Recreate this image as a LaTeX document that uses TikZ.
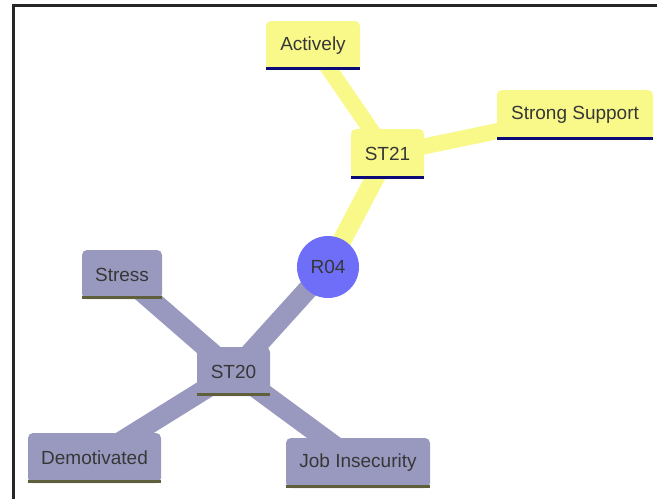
\documentclass[tikz,border=0pt]{standalone}
\usepackage{fontspec}
\setmainfont{Liberation Sans}
\definecolor{leafyellow}{RGB}{249,249,138}
\definecolor{navyline}{RGB}{10,10,120}
\definecolor{slatebox}{RGB}{153,153,192}
\definecolor{oliveline}{RGB}{95,95,60}
\definecolor{rootblue}{RGB}{110,110,248}
\definecolor{labelgrey}{RGB}{55,55,55}
\begin{document}
\begin{tikzpicture}[x=1pt,y=-1pt,
  every node/.style={font=\fontsize{19}{21}\selectfont, text=labelgrey, inner sep=0pt},
  ybox/.style={fill=leafyellow, rounded corners=5pt},
  gbox/.style={fill=slatebox, rounded corners=5pt},
  yul/.style={draw=navyline, line width=3.5pt},
  gul/.style={draw=oliveline, line width=3.5pt},
  yband/.style={draw=leafyellow, line width=16pt},
  gband/.style={draw=slatebox, line width=20pt},
  frameline/.style={draw=black!85, line width=3pt}]
  \useasboundingbox (0,0) rectangle (657,499);
  \fill[white] (0,0) rectangle (657,499);

  % frame
  \coordinate (ftl) at (13.5,5.5);
  \coordinate (ftr) at (657,5.5);
  \coordinate (fbl) at (13.5,499);
  \draw[frameline] (ftr) -- (ftl) -- (fbl);

  % centres
  \coordinate (cAct) at (313,45.5);
  \coordinate (cS21) at (387.5,154);
  \coordinate (cSup) at (575,115);
  \coordinate (cR04) at (328,267);
  \coordinate (cStr) at (122,274.5);
  \coordinate (cS20) at (233.5,371.5);
  \coordinate (cDem) at (94.5,458);
  \coordinate (cJob) at (358,463);

  % connectors (behind the boxes)
  \draw[yband] (cAct) -- (cS21);
  \draw[yband] (cS21) -- (cSup);
  \draw[yband, line width=19pt] (cS21) -- (cR04);
  \draw[gband] (cR04) -- (cS20);
  \draw[gband] (cS20) -- (cStr);
  \draw[gband] (cS20) -- (cDem);
  \draw[gband] (cS20) -- (cJob);

  % boxes
  \node[ybox, minimum width=94pt, minimum height=49pt] (act) at (cAct) {Actively};
  \node[ybox, minimum width=73pt, minimum height=50pt] (s21) at (cS21) {ST21};
  \node[ybox, minimum width=156pt, minimum height=50pt] (sup) at (cSup) {Strong Support};
  \node[circle, fill=rootblue, minimum size=62pt] (r04) at (cR04) {R04};
  \node[gbox, minimum width=80pt, minimum height=49pt] (str) at (cStr) {Stress};
  \node[gbox, minimum width=73pt, minimum height=49pt] (s20) at (cS20) {ST20};
  \node[gbox, minimum width=133pt, minimum height=50pt] (dem) at (cDem) {Demotivated};
  \node[gbox, minimum width=144pt, minimum height=50pt] (job) at (cJob) {Job Insecurity};

  % underlines along the bottom edge of each box
  \foreach \n in {act,s21,sup}
    \draw[yul] ([yshift=1.75pt]\n.south west) -- ([yshift=1.75pt]\n.south east);
  \foreach \n in {str,s20,dem,job}
    \draw[gul] ([yshift=1.75pt]\n.south west) -- ([yshift=1.75pt]\n.south east);
\end{tikzpicture}
\end{document}
